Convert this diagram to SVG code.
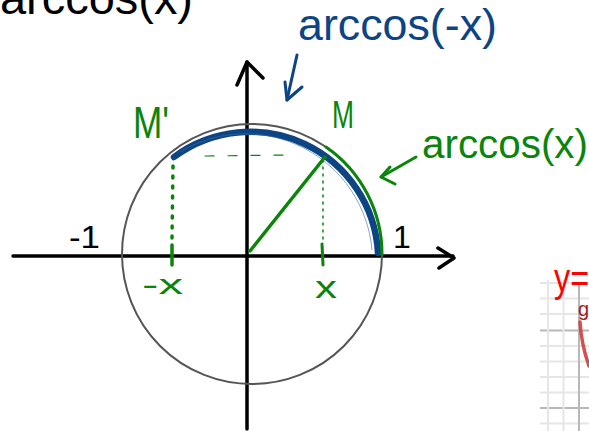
<svg xmlns="http://www.w3.org/2000/svg" width="589" height="431" viewBox="0 0 589 431">
<style>
.hand{font-family:"Liberation Sans","DejaVu Sans",sans-serif;font-weight:normal}
.ax{stroke:#000;stroke-width:3.5;fill:none;stroke-linecap:round;stroke-linejoin:round}
.g{stroke:#0a850a;fill:none;stroke-linecap:round;stroke-linejoin:round}
.b{stroke:#0d4584;fill:none;stroke-linecap:round;stroke-linejoin:round}
.gl{stroke:#e6e6e6;stroke-width:2}
.gd{stroke:#b8b8b8;stroke-width:2}
</style>
<rect width="589" height="431" fill="#fff"/>

<g id="title">
<text class="hand" x="0" y="14" font-size="46" fill="#000" textLength="193" lengthAdjust="spacingAndGlyphs">arccos(x)</text>
</g>

<g id="grid-fragment">
<line class="gl" x1="540" y1="283" x2="589" y2="283"/>
<line class="gl" x1="540" y1="298.5" x2="589" y2="298.5"/>
<line class="gl" x1="540" y1="314" x2="589" y2="314"/>
<line class="gd" x1="540" y1="330.5" x2="589" y2="330.5"/>
<line class="gl" x1="540" y1="346" x2="589" y2="346"/>
<line class="gl" x1="540" y1="361.5" x2="589" y2="361.5"/>
<line class="gl" x1="540" y1="377" x2="589" y2="377"/>
<line class="gl" x1="540" y1="392.5" x2="589" y2="392.5"/>
<line class="gd" x1="540" y1="408" x2="589" y2="408"/>
<line class="gl" x1="540" y1="423.5" x2="589" y2="423.5"/>
<line class="gl" x1="548" y1="280" x2="548" y2="431"/>
<line class="gl" x1="563.5" y1="280" x2="563.5" y2="431"/>
<line class="gd" x1="579" y1="282" x2="579" y2="431"/>
<path d="M580 322 C581 338 584 352 589 366" stroke="#d23b3b" stroke-width="3.5" fill="none" stroke-linecap="round" opacity="0.9"/>
<text class="hand" x="554" y="292" font-size="40" fill="#f00" textLength="35" lengthAdjust="spacingAndGlyphs">y=</text>
<text class="hand" x="578" y="316" font-size="20" fill="#b01818">g</text>
</g>

<g id="axes">
<line class="ax" x1="13" y1="256" x2="453" y2="256"/>
<polyline class="ax" points="438,248 454,258 439,268"/>
<line class="ax" x1="247" y1="62" x2="247" y2="429"/>
<polyline class="ax" points="237,85 247,62 263,78"/>
<text class="hand" x="69" y="248" font-size="32" fill="#000" textLength="31" lengthAdjust="spacingAndGlyphs">-1</text>
<text class="hand" x="393" y="248" font-size="32" fill="#000">1</text>
</g>

<g id="unit-circle">
<circle cx="252" cy="254" r="130" fill="none" stroke="#555" stroke-width="2"/>
</g>

<g id="arc-minus-x">
<path class="b" d="M174 157 A128 128 0 0 1 378 253" stroke-width="6.5"/>
<path d="M180 152 A127 127 0 0 1 372 250" fill="none" stroke="#3a6aa6" stroke-width="1" opacity="0.6"/>
</g>

<g id="arc-x">
<path class="g" d="M326 147 A130 130 0 0 1 382 255" stroke-width="3"/>
</g>

<g id="point-M">
<line class="g" x1="250" y1="251" x2="325" y2="157" stroke-width="3.5"/>
<line class="g" x1="323" y1="160" x2="323" y2="242" stroke-width="1.5" stroke-dasharray="2 5"/>
<line class="g" x1="322" y1="244" x2="323" y2="265" stroke-width="3"/>
<text class="hand" x="332" y="128" font-size="38" fill="#0a850a" textLength="22" lengthAdjust="spacingAndGlyphs">M</text>
<text class="hand" x="315" y="298" font-size="32" fill="#0a850a" textLength="22" lengthAdjust="spacingAndGlyphs">x</text>
</g>

<g id="point-M-prime">
<line class="g" x1="173" y1="166" x2="172" y2="238" stroke-width="3.5" stroke-dasharray="2 8"/>
<line class="g" x1="172" y1="245" x2="172" y2="265" stroke-width="3.5"/>
<line class="g" x1="205" y1="156" x2="290" y2="155" stroke-width="1.2" stroke-dasharray="9 14"/>
<text class="hand" x="133" y="138" font-size="44" fill="#0a850a" textLength="36" lengthAdjust="spacingAndGlyphs">M'</text>
<text class="hand" x="142" y="294" font-size="28" fill="#0a850a" textLength="41" lengthAdjust="spacingAndGlyphs">-x</text>
</g>

<g id="label-arccos-minus-x">
<text class="hand" x="298" y="40" font-size="44" fill="#0d4584" textLength="199" lengthAdjust="spacingAndGlyphs">arccos(-x)</text>
</g>

<g id="label-arccos-x">
<text class="hand" x="422" y="158" font-size="40" fill="#0a850a" textLength="166" lengthAdjust="spacingAndGlyphs">arccos(x)</text>
</g>

<g id="connectors">
<line class="b" x1="297" y1="55" x2="287" y2="100" stroke-width="3"/>
<polyline class="b" points="285,82 287,100 302,87" stroke-width="3"/>
<line class="g" x1="416" y1="157" x2="381" y2="177" stroke-width="3"/>
<polyline class="g" points="390,167 381,177 395,184" stroke-width="3"/>
</g>
</svg>
